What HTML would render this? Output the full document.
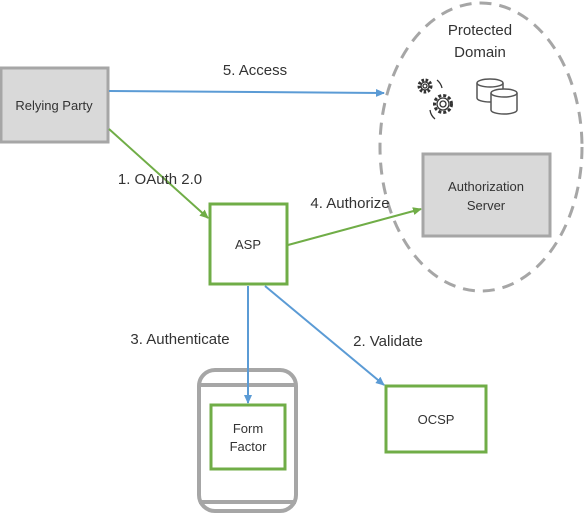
<!DOCTYPE html>
<html><head><style>
body{margin:0;width:585px;height:516px;background:#fff;overflow:hidden}
svg{display:block;font-family:"Liberation Sans",sans-serif}
</style></head><body>
<svg width="585" height="516" viewBox="0 0 585 516">
<defs>
<marker id="b" markerWidth="10" markerHeight="10" refX="8" refY="5" orient="auto" markerUnits="userSpaceOnUse"><path d="M0,1 L9,5 L0,9 z" fill="#5b9bd5"/></marker>
<marker id="g" markerWidth="10" markerHeight="10" refX="8" refY="5" orient="auto" markerUnits="userSpaceOnUse"><path d="M0,1 L9,5 L0,9 z" fill="#70ad47"/></marker>
</defs>
<ellipse cx="481" cy="147" rx="101" ry="144" fill="none" stroke="#a6a6a6" stroke-width="3" stroke-dasharray="12,8"/>
<text x="480" y="35" font-size="15" text-anchor="middle" fill="#333">Protected</text>
<text x="480" y="57" font-size="15" text-anchor="middle" fill="#333">Domain</text>
<!-- gears -->
<g fill="none" stroke="#333" stroke-width="1.3">
<circle cx="425" cy="86" r="6" stroke-dasharray="2.5,1.6" stroke-width="3"/><circle cx="425" cy="86" r="4"/><circle cx="425" cy="86" r="2"/>
<circle cx="443" cy="104" r="8.5" stroke-dasharray="3,2" stroke-width="3"/><circle cx="443" cy="104" r="6"/><circle cx="443" cy="104" r="3"/>
<path d="M437,80 a14,14 0 0 1 5,8"/><path d="M430,110 a14,14 0 0 0 5,9"/>
</g>
<!-- db -->
<g fill="#fff" stroke="#555" stroke-width="1.5">
<path d="M477,83 v15 a13,4 0 0 0 26,0 v-15"/><ellipse cx="490" cy="83" rx="13" ry="4"/>
<path d="M491,93 v17 a13,4 0 0 0 26,0 v-17"/><ellipse cx="504" cy="93" rx="13" ry="4"/>
</g>
<rect x="423" y="154" width="127" height="82" fill="#d9d9d9" stroke="#a6a6a6" stroke-width="3"/>
<text x="486" y="191" font-size="13" text-anchor="middle" fill="#333">Authorization</text>
<text x="486" y="210" font-size="13" text-anchor="middle" fill="#333">Server</text>
<rect x="1" y="68" width="107" height="74" fill="#d9d9d9" stroke="#a6a6a6" stroke-width="3"/>
<text x="54" y="110" font-size="13" text-anchor="middle" fill="#333">Relying Party</text>
<rect x="210" y="204" width="77" height="80" fill="#fff" stroke="#70ad47" stroke-width="3"/>
<text x="248" y="249" font-size="13" text-anchor="middle" fill="#333">ASP</text>
<rect x="386" y="386" width="100" height="66" fill="#fff" stroke="#70ad47" stroke-width="3"/>
<text x="436" y="424" font-size="13" text-anchor="middle" fill="#333">OCSP</text>
<rect x="199" y="370" width="97" height="141" rx="16" fill="#fff" stroke="#a6a6a6" stroke-width="4"/>
<line x1="199" y1="385" x2="296" y2="385" stroke="#a6a6a6" stroke-width="4"/>
<line x1="199" y1="502" x2="296" y2="502" stroke="#a6a6a6" stroke-width="4"/>
<rect x="211" y="405" width="74" height="64" fill="#fff" stroke="#70ad47" stroke-width="3"/>
<text x="248" y="433" font-size="13" text-anchor="middle" fill="#333">Form</text>
<text x="248" y="451" font-size="13" text-anchor="middle" fill="#333">Factor</text>
<line x1="109" y1="91" x2="384" y2="93" stroke="#5b9bd5" stroke-width="2" marker-end="url(#b)"/>
<line x1="109" y1="129" x2="208" y2="218" stroke="#70ad47" stroke-width="2" marker-end="url(#g)"/>
<line x1="288" y1="245" x2="421" y2="209" stroke="#70ad47" stroke-width="2" marker-end="url(#g)"/>
<line x1="248" y1="286" x2="248" y2="403" stroke="#5b9bd5" stroke-width="2" marker-end="url(#b)"/>
<line x1="265" y1="286" x2="384" y2="385" stroke="#5b9bd5" stroke-width="2" marker-end="url(#b)"/>
<text x="255" y="75" font-size="15" text-anchor="middle" fill="#333">5. Access</text>
<text x="160" y="184" font-size="15" text-anchor="middle" fill="#333">1. OAuth 2.0</text>
<text x="350" y="208" font-size="15" text-anchor="middle" fill="#333">4. Authorize</text>
<text x="180" y="344" font-size="15" text-anchor="middle" fill="#333">3. Authenticate</text>
<text x="388" y="346" font-size="15" text-anchor="middle" fill="#333">2. Validate</text>
</svg>
</body></html>
